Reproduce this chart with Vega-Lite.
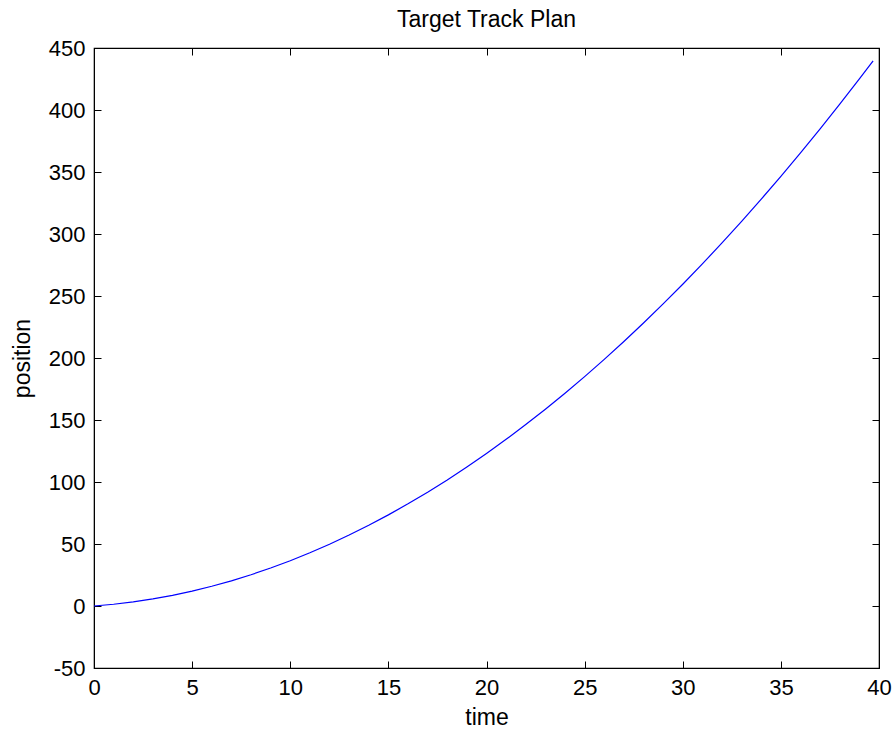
{
  "$schema": "https://vega.github.io/schema/vega-lite/v6.json",
  "autosize": "none",
  "width": 785,
  "height": 620,
  "padding": {"left": 94, "top": 48, "right": 17, "bottom": 68},
  "background": "white",
  "title": {"text": "Target Track Plan", "font": "Liberation Sans", "fontSize": 23, "fontWeight": "normal", "color": "#000000", "offset": 5},
  "config": {
    "view": {"stroke": "#000000", "strokeWidth": 1.2},
    "axis": {"labelFont": "Liberation Sans", "titleFont": "Liberation Sans", "labelFontSize": 22, "titleFontSize": 23, "titleFontWeight": "normal", "labelColor": "#000000", "titleColor": "#000000", "domainColor": "#000000", "tickColor": "#000000", "grid": false, "tickSize": -7, "labelPadding": 16, "labelFlush": false, "labelExpr": "datum.value + ''"}
  },
  "data": {"values": [
    {"time": 0, "position": 0},
    {"time": 1, "position": 1.4},
    {"time": 2, "position": 3.3},
    {"time": 3, "position": 5.7},
    {"time": 4, "position": 8.6},
    {"time": 5, "position": 12.0},
    {"time": 6, "position": 15.9},
    {"time": 7, "position": 20.3},
    {"time": 8, "position": 25.2},
    {"time": 9, "position": 30.6},
    {"time": 10, "position": 36.5},
    {"time": 11, "position": 42.9},
    {"time": 12, "position": 49.8},
    {"time": 13, "position": 57.2},
    {"time": 14, "position": 65.1},
    {"time": 15, "position": 73.5},
    {"time": 16, "position": 82.4},
    {"time": 17, "position": 91.8},
    {"time": 18, "position": 101.7},
    {"time": 19, "position": 112.1},
    {"time": 20, "position": 123.0},
    {"time": 21, "position": 134.4},
    {"time": 22, "position": 146.3},
    {"time": 23, "position": 158.7},
    {"time": 24, "position": 171.6},
    {"time": 25, "position": 185.0},
    {"time": 26, "position": 198.9},
    {"time": 27, "position": 213.3},
    {"time": 28, "position": 228.2},
    {"time": 29, "position": 243.6},
    {"time": 30, "position": 259.5},
    {"time": 31, "position": 275.9},
    {"time": 32, "position": 292.8},
    {"time": 33, "position": 310.2},
    {"time": 34, "position": 328.1},
    {"time": 35, "position": 346.5},
    {"time": 36, "position": 365.4},
    {"time": 37, "position": 384.8},
    {"time": 38, "position": 404.7},
    {"time": 39, "position": 425.1},
    {"time": 39.7, "position": 439.7}
  ]},
  "layer": [
    {
      "mark": {"type": "line", "color": "#0000FF", "strokeWidth": 1.2},
      "encoding": {
        "x": {"field": "time", "type": "quantitative", "scale": {"domain": [0, 40], "nice": false, "zero": false}, "axis": {"orient": "bottom", "title": "time", "values": [0,5,10,15,20,25,30,35,40], "titlePadding": 8}},
        "y": {"field": "position", "type": "quantitative", "scale": {"domain": [-50, 450], "nice": false, "zero": false}, "axis": {"orient": "left", "title": "position", "values": [-50,0,50,100,150,200,250,300,350,400,450], "titlePadding": 14}}
      }
    },
    {
      "mark": {"type": "line", "opacity": 0},
      "encoding": {
        "x": {"field": "time", "type": "quantitative", "axis": {"orient": "top", "title": null, "labels": false, "values": [0,5,10,15,20,25,30,35,40]}},
        "y": {"field": "position", "type": "quantitative", "axis": {"orient": "right", "title": null, "labels": false, "values": [-50,0,50,100,150,200,250,300,350,400,450]}}
      }
    }
  ],
  "resolve": {"axis": {"x": "independent", "y": "independent"}}
}
